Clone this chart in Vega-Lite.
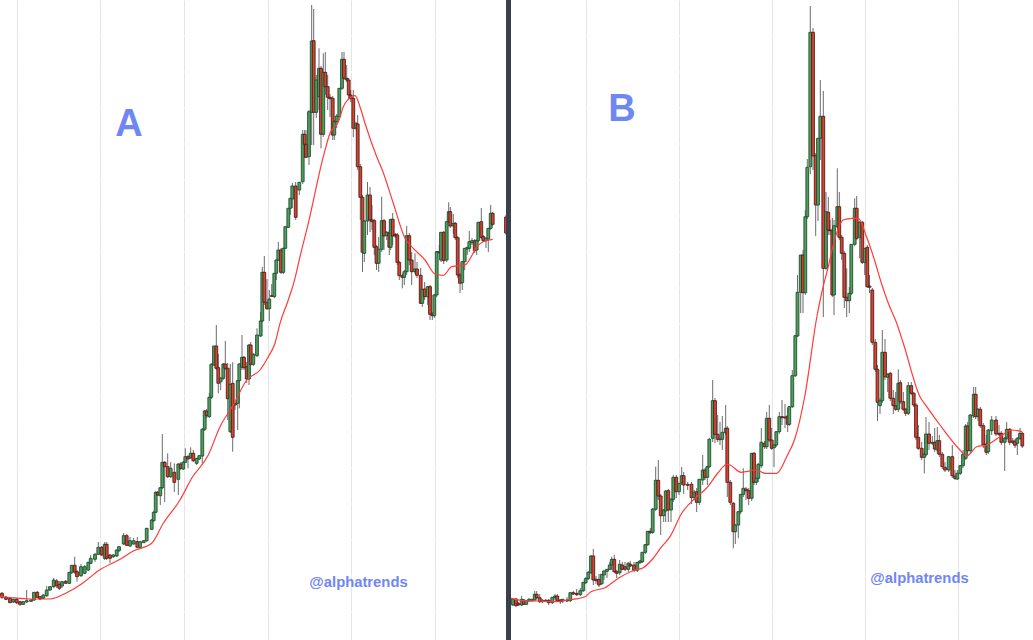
{
"$schema":"https://vega.github.io/schema/vega-lite/v6.json",
"width":1033,"height":640,
"autosize":"none",
"padding":0,
"background":"#ffffff",
"view":{"stroke":null},
"datasets":{
"candles":[
{"t":2,"o":46.7,"h":48,"l":41,"c":42.7},{"t":6,"o":42.7,"h":44,"l":40,"c":40.7},{"t":10,"o":41.7,"h":43,"l":37,"c":37.3},{"t":13.3,"o":38,"h":41.5,"l":37,"c":40.7},{"t":16.7,"o":40.7,"h":42,"l":36,"c":37.3},{"t":20,"o":38.3,"h":39,"l":34,"c":35.7},{"t":23.3,"o":35.7,"h":39,"l":35,"c":38.3},{"t":26.7,"o":38,"h":50,"l":37,"c":39.3},{"t":31,"o":38.7,"h":41,"l":38,"c":40},{"t":34,"o":40,"h":48,"l":39,"c":47.7},{"t":37.3,"o":47.7,"h":49,"l":42,"c":42.7},{"t":40,"o":43.3,"h":44,"l":40,"c":41},{"t":43.3,"o":41.7,"h":46,"l":41,"c":45},{"t":46.7,"o":44.3,"h":54,"l":43,"c":50},{"t":50,"o":50,"h":54,"l":49,"c":53.3},{"t":53.7,"o":53.3,"h":62,"l":52,"c":60},{"t":56.7,"o":59,"h":61,"l":52,"c":54.3},{"t":59.3,"o":55.7,"h":59,"l":50,"c":51.7},{"t":62,"o":54,"h":59,"l":52,"c":58.3},{"t":65.7,"o":58.7,"h":60,"l":56,"c":56.7},{"t":69.3,"o":56.7,"h":68,"l":56,"c":67.7},{"t":71.7,"o":67.3,"h":75,"l":66,"c":74.7},{"t":74.7,"o":74.7,"h":83.3,"l":66,"c":68},{"t":77,"o":68.3,"h":70,"l":58.3,"c":63.3},{"t":81,"o":64.3,"h":76,"l":63,"c":73.3},{"t":84.7,"o":66.7,"h":75,"l":66,"c":73.3},{"t":88.3,"o":70,"h":78,"l":69,"c":77.7},{"t":90.7,"o":76.7,"h":85,"l":76,"c":81.7},{"t":95,"o":80.7,"h":87,"l":78,"c":85.7},{"t":98.3,"o":85.7,"h":98,"l":85,"c":92.7},{"t":101.7,"o":92.7,"h":94,"l":84,"c":85},{"t":104.7,"o":81.7,"h":98,"l":80,"c":95.7},{"t":106.7,"o":95.7,"h":98,"l":80,"c":81.7},{"t":110,"o":85,"h":86,"l":76.7,"c":81.7},{"t":113.3,"o":83.3,"h":86,"l":82,"c":85},{"t":116.7,"o":84,"h":90.5,"l":83,"c":90},{"t":119,"o":89.3,"h":94,"l":88,"c":93.3},{"t":123.7,"o":96,"h":107,"l":95,"c":104.3},{"t":126.7,"o":104.3,"h":106,"l":94,"c":94.7},{"t":130,"o":94,"h":103,"l":93,"c":99.3},{"t":133.7,"o":96,"h":102,"l":95,"c":99.3},{"t":137.3,"o":98.3,"h":103,"l":92,"c":92.7},{"t":140,"o":92.7,"h":99,"l":92,"c":98.3},{"t":143.7,"o":97.3,"h":100,"l":97,"c":99.3},{"t":146.7,"o":99.3,"h":112,"l":98,"c":111.7},{"t":151.7,"o":110.7,"h":121,"l":110,"c":120},{"t":153.7,"o":119.3,"h":129,"l":118,"c":127.7},{"t":155.7,"o":127.7,"h":149,"l":127,"c":147.7},{"t":157.7,"o":147.7,"h":149,"l":144,"c":145},{"t":160.3,"o":144.3,"h":153,"l":135,"c":152.3},{"t":162.3,"o":152.3,"h":206,"l":151,"c":177.7},{"t":164.7,"o":177.7,"h":179,"l":138,"c":173.3},{"t":167.7,"o":173.3,"h":186.7,"l":162,"c":163.3},{"t":170.7,"o":163.3,"h":178,"l":162,"c":171.7},{"t":174.3,"o":167.7,"h":176.7,"l":148,"c":157.7},{"t":178.3,"o":160.7,"h":177,"l":145,"c":176},{"t":180.7,"o":176,"h":178,"l":170,"c":171.7},{"t":183.3,"o":171,"h":179,"l":170,"c":177.7},{"t":185.3,"o":177.7,"h":191.7,"l":177,"c":183.3},{"t":188,"o":183.3,"h":185,"l":171.7,"c":181},{"t":190.7,"o":182.3,"h":192.7,"l":181,"c":186.7},{"t":193.3,"o":186.7,"h":190,"l":178,"c":179.3},{"t":196.7,"o":176.7,"h":182,"l":175,"c":181.7},{"t":199.3,"o":181,"h":185,"l":180,"c":184.3},{"t":202.3,"o":184,"h":212,"l":177,"c":210.7},{"t":204.7,"o":210.7,"h":230,"l":209,"c":229},{"t":206.7,"o":229,"h":231,"l":222,"c":224.3},{"t":209.3,"o":223.3,"h":247,"l":222,"c":242.7},{"t":211.3,"o":242.7,"h":277,"l":241,"c":275.7},{"t":214,"o":275,"h":294,"l":274,"c":294},{"t":216.3,"o":294,"h":315,"l":270,"c":271.7},{"t":218.3,"o":272.3,"h":286,"l":246.7,"c":256.7},{"t":220.7,"o":258.3,"h":263,"l":250,"c":261.7},{"t":223.3,"o":261.7,"h":277,"l":260,"c":276},{"t":225.3,"o":276,"h":299,"l":270,"c":271.7},{"t":227.7,"o":271.7,"h":277,"l":220,"c":241.3},{"t":230.3,"o":208.3,"h":276,"l":207,"c":255.7},{"t":232.7,"o":256.7,"h":277.7,"l":188.3,"c":202.7},{"t":235,"o":236.7,"h":238,"l":230,"c":235},{"t":237.7,"o":236.7,"h":260,"l":210,"c":259.3},{"t":239.3,"o":259.3,"h":277,"l":231.7,"c":276},{"t":242,"o":272.7,"h":305,"l":270,"c":282.7},{"t":244,"o":282.7,"h":284,"l":270,"c":272.3},{"t":246.7,"o":273.3,"h":278,"l":257,"c":261},{"t":249,"o":261,"h":296,"l":255,"c":295},{"t":250.7,"o":295,"h":298,"l":274,"c":275.7},{"t":253.3,"o":275.7,"h":287,"l":274,"c":285.7},{"t":257,"o":284.3,"h":311.7,"l":283,"c":305},{"t":260.7,"o":304,"h":328,"l":303,"c":319},{"t":262.3,"o":319,"h":373,"l":318,"c":367.7},{"t":264.3,"o":367.7,"h":384,"l":335,"c":337.7},{"t":267,"o":337.7,"h":361,"l":330,"c":331.3},{"t":269.3,"o":331.3,"h":350,"l":319,"c":341},{"t":271.7,"o":344.3,"h":356,"l":343,"c":343.7},{"t":274.3,"o":343.3,"h":367,"l":342,"c":366.7},{"t":276.3,"o":366.7,"h":381,"l":360,"c":380},{"t":278.3,"o":380,"h":398,"l":379,"c":390},{"t":281,"o":390,"h":392,"l":366,"c":367.7},{"t":283.3,"o":367.7,"h":392,"l":366,"c":391.7},{"t":285.3,"o":391.7,"h":414,"l":391,"c":413.3},{"t":288.3,"o":412.7,"h":432,"l":412,"c":431.7},{"t":290.3,"o":431.7,"h":442,"l":425,"c":441.7},{"t":292.3,"o":441,"h":457,"l":432,"c":454},{"t":295.7,"o":454,"h":458,"l":420,"c":422.7},{"t":299.3,"o":450,"h":458,"l":445,"c":457.7},{"t":302.7,"o":458.3,"h":510,"l":456,"c":505.7},{"t":304.7,"o":505.7,"h":510,"l":482,"c":495.7},{"t":306,"o":495.7,"h":510,"l":482,"c":482.7},{"t":309,"o":483.3,"h":530,"l":475,"c":528.3},{"t":311.7,"o":527.7,"h":635,"l":495,"c":599},{"t":313.7,"o":599.3,"h":631,"l":495,"c":527.7},{"t":316.3,"o":527.7,"h":565,"l":522,"c":560},{"t":319,"o":543.3,"h":591.7,"l":530,"c":571.7},{"t":321,"o":571.7,"h":574,"l":491.7,"c":505.7},{"t":323.3,"o":505.7,"h":586.7,"l":503,"c":567.7},{"t":325.3,"o":567.7,"h":588,"l":545,"c":553.3},{"t":327.7,"o":553.3,"h":565,"l":530,"c":542.7},{"t":330,"o":542.7,"h":546,"l":523,"c":541.3},{"t":332.7,"o":541.7,"h":544,"l":500,"c":505},{"t":334.3,"o":505,"h":520,"l":500,"c":518.3},{"t":336.7,"o":518.3,"h":526,"l":512,"c":524},{"t":339.3,"o":523.3,"h":552,"l":520,"c":551.7},{"t":342,"o":551.7,"h":588,"l":550,"c":580.7},{"t":344,"o":580.7,"h":588,"l":560,"c":561.7},{"t":346.7,"o":561.7,"h":575,"l":558,"c":560},{"t":348.7,"o":560,"h":562,"l":540,"c":545},{"t":350.7,"o":545,"h":550,"l":538,"c":541.7},{"t":353.3,"o":541.7,"h":550,"l":503,"c":511.7},{"t":356,"o":511.7,"h":518,"l":510,"c":516.7},{"t":357.7,"o":516,"h":525,"l":470,"c":473.3},{"t":360.3,"o":473.3,"h":476,"l":420,"c":442.7},{"t":362.5,"o":442.7,"h":445,"l":368,"c":387.7},{"t":364.3,"o":386.7,"h":420,"l":378,"c":419},{"t":367.5,"o":419,"h":458,"l":405,"c":445},{"t":370,"o":445,"h":453,"l":408,"c":420},{"t":372,"o":420,"h":435,"l":410,"c":418.3},{"t":374.3,"o":419.3,"h":421,"l":385,"c":392.7},{"t":376.5,"o":393.3,"h":395,"l":370,"c":376.7},{"t":378.7,"o":376.7,"h":403,"l":368,"c":390.7},{"t":381.7,"o":390.7,"h":443.3,"l":388,"c":419.3},{"t":384,"o":419.3,"h":421,"l":390,"c":404},{"t":386.7,"o":404.3,"h":409,"l":400,"c":407.7},{"t":389.3,"o":407.3,"h":410,"l":385,"c":392.7},{"t":390.7,"o":392.7,"h":421,"l":390,"c":420.7},{"t":392.7,"o":420.7,"h":427,"l":395,"c":404},{"t":395.3,"o":405.7,"h":407,"l":402,"c":404},{"t":397.3,"o":405,"h":407,"l":375,"c":377.7},{"t":399.3,"o":377.7,"h":379,"l":360,"c":364.3},{"t":402.3,"o":364.3,"h":366,"l":351.7,"c":362.7},{"t":404.3,"o":362.7,"h":370,"l":355,"c":368.3},{"t":406.7,"o":368.3,"h":414,"l":365,"c":404.3},{"t":409.3,"o":404.3,"h":407,"l":375,"c":380},{"t":411.7,"o":380,"h":388,"l":355,"c":368.3},{"t":415,"o":368.3,"h":386.7,"l":366,"c":371},{"t":417,"o":371,"h":378,"l":362,"c":364.7},{"t":420.7,"o":364.7,"h":372,"l":336,"c":336.7},{"t":422.3,"o":336.7,"h":351,"l":333,"c":350.7},{"t":424.7,"o":351,"h":358,"l":340,"c":343.3},{"t":427.7,"o":343.3,"h":354,"l":335,"c":353.3},{"t":430,"o":353.3,"h":355,"l":320,"c":325.7},{"t":432.3,"o":326,"h":328,"l":320,"c":324.3},{"t":434.3,"o":324.3,"h":346,"l":322,"c":345},{"t":436.7,"o":345,"h":389,"l":343,"c":388.3},{"t":439.3,"o":388.3,"h":395,"l":386,"c":387.3},{"t":441,"o":380,"h":408,"l":378,"c":407.7},{"t":443.7,"o":407.7,"h":409,"l":376,"c":379.3},{"t":446.7,"o":380,"h":419,"l":378,"c":418.3},{"t":448.7,"o":418.3,"h":437.7,"l":417,"c":428.3},{"t":450.3,"o":428.3,"h":433,"l":412,"c":414},{"t":453.3,"o":414,"h":426,"l":406,"c":416.7},{"t":455.3,"o":416.7,"h":418,"l":400,"c":402.3},{"t":457.7,"o":402.3,"h":404,"l":362,"c":365},{"t":460,"o":365,"h":367,"l":347,"c":356.7},{"t":462.3,"o":357.3,"h":379,"l":350,"c":378.3},{"t":464.7,"o":378.3,"h":392,"l":370,"c":391.7},{"t":467.3,"o":391,"h":393,"l":385,"c":392.7},{"t":469.3,"o":391.7,"h":409,"l":388,"c":398.3},{"t":472,"o":397.3,"h":402,"l":395,"c":399.3},{"t":474.7,"o":399.3,"h":401,"l":387,"c":389.3},{"t":476.7,"o":390,"h":401,"l":385,"c":399.3},{"t":478.3,"o":399.3,"h":418,"l":398,"c":417.7},{"t":481.3,"o":418.3,"h":432,"l":401,"c":402.7},{"t":483.3,"o":403.3,"h":405,"l":398,"c":399.3},{"t":486,"o":399.3,"h":403,"l":392,"c":401.7},{"t":488.3,"o":401,"h":412,"l":388,"c":411.7},{"t":490.7,"o":411.7,"h":435,"l":410,"c":426.7},{"t":492.7,"o":426.7,"h":428,"l":414,"c":415.7},{"t":506,"o":423,"h":425,"l":405,"c":407},
{"t":513,"o":35,"h":42,"l":34,"c":41},{"t":516,"o":41,"h":42,"l":33,"c":34.3},{"t":518.3,"o":36.7,"h":38,"l":34,"c":35},{"t":521.7,"o":35,"h":44,"l":34,"c":40.7},{"t":524,"o":40,"h":41,"l":35,"c":35.7},{"t":526.3,"o":35.7,"h":40,"l":35,"c":39.3},{"t":529,"o":39,"h":42,"l":38,"c":40.7},{"t":532,"o":39.3,"h":41,"l":38,"c":40.7},{"t":534.7,"o":40,"h":49,"l":39,"c":45.7},{"t":536.7,"o":45.7,"h":49,"l":41,"c":42.3},{"t":539.7,"o":42.3,"h":46,"l":37,"c":38.3},{"t":542.3,"o":38.3,"h":41,"l":37,"c":39.7},{"t":545.7,"o":39.7,"h":41,"l":38,"c":38.7},{"t":548.7,"o":39.7,"h":41,"l":35,"c":37.3},{"t":552.3,"o":37.3,"h":43,"l":36,"c":42.7},{"t":555,"o":42.3,"h":46,"l":40,"c":44},{"t":557.3,"o":44,"h":46,"l":38,"c":39},{"t":560.3,"o":40,"h":41,"l":36,"c":38.3},{"t":562.7,"o":39,"h":41,"l":37,"c":40.7},{"t":567,"o":40,"h":43,"l":38,"c":39},{"t":570.3,"o":39.3,"h":48,"l":38,"c":47.3},{"t":573.3,"o":47.3,"h":49,"l":45,"c":46},{"t":576.7,"o":46.7,"h":51,"l":44,"c":45.3},{"t":580.3,"o":45.3,"h":52,"l":44,"c":49.3},{"t":583.3,"o":49.3,"h":58,"l":48,"c":57.7},{"t":585.7,"o":57.3,"h":63,"l":56,"c":61.3},{"t":588.3,"o":61.3,"h":69,"l":60,"c":67.7},{"t":591,"o":67.3,"h":85,"l":66,"c":84},{"t":593.3,"o":84,"h":91,"l":55,"c":60},{"t":596,"o":60.7,"h":64,"l":56,"c":59.3},{"t":599,"o":60.7,"h":66,"l":53,"c":55},{"t":601.7,"o":56.3,"h":66,"l":55,"c":65.7},{"t":604,"o":65,"h":70,"l":60,"c":69},{"t":607,"o":68.7,"h":71,"l":62,"c":70.7},{"t":609.7,"o":70.7,"h":78,"l":70,"c":75},{"t":611.7,"o":75,"h":83.3,"l":70,"c":80.7},{"t":614.3,"o":80.7,"h":85,"l":67,"c":68.3},{"t":616.7,"o":68.3,"h":70,"l":62,"c":66.7},{"t":619.7,"o":67.3,"h":80,"l":65,"c":75.7},{"t":622.3,"o":75,"h":78,"l":70,"c":70.7},{"t":625,"o":73.3,"h":78,"l":69,"c":70.7},{"t":628.3,"o":70.7,"h":78,"l":68,"c":76.7},{"t":630.3,"o":75.7,"h":79,"l":73,"c":74},{"t":634,"o":75,"h":78,"l":68,"c":69.7},{"t":637.3,"o":69.7,"h":78,"l":68,"c":77.7},{"t":640,"o":77.3,"h":80,"l":76,"c":79},{"t":642.3,"o":78.3,"h":88,"l":77,"c":87.7},{"t":645.3,"o":87.7,"h":96,"l":86,"c":95.3},{"t":647.7,"o":95.3,"h":109,"l":94,"c":108.7},{"t":650.3,"o":108.7,"h":112,"l":106,"c":107.3},{"t":652.7,"o":107.7,"h":132,"l":106,"c":131},{"t":655.7,"o":130.7,"h":173.3,"l":129,"c":159.7},{"t":658.3,"o":159.7,"h":180,"l":140,"c":144},{"t":660.7,"o":144,"h":146,"l":105,"c":124.3},{"t":663.7,"o":124.3,"h":131,"l":118,"c":130},{"t":665.7,"o":129,"h":150,"l":118,"c":149},{"t":668.3,"o":149.3,"h":151,"l":118,"c":130},{"t":671,"o":130,"h":142,"l":118,"c":140.7},{"t":673.3,"o":140.7,"h":165,"l":138,"c":162.7},{"t":676.3,"o":162.7,"h":165,"l":142,"c":148.3},{"t":679,"o":148.3,"h":157,"l":145,"c":156.7},{"t":681.7,"o":157.3,"h":173,"l":155,"c":164.3},{"t":683.7,"o":164.3,"h":168,"l":146,"c":155},{"t":687.7,"o":155.7,"h":158,"l":150,"c":154.7},{"t":691.5,"o":155.7,"h":158,"l":136,"c":142.5},{"t":694.2,"o":142.5,"h":150,"l":140,"c":147.8},{"t":696.7,"o":148.3,"h":152,"l":128,"c":137.7},{"t":699.3,"o":137.7,"h":161,"l":135,"c":160.7},{"t":702.7,"o":160,"h":185,"l":155,"c":170},{"t":705,"o":170,"h":172,"l":160,"c":162.7},{"t":707.3,"o":162.7,"h":174,"l":155,"c":173.3},{"t":709.3,"o":173.3,"h":202,"l":172,"c":200.7},{"t":712.7,"o":201.7,"h":260,"l":198,"c":239.3},{"t":715,"o":239.3,"h":242,"l":197,"c":205.7},{"t":717.7,"o":205.7,"h":225,"l":198,"c":200.7},{"t":720,"o":200.3,"h":218,"l":195,"c":201},{"t":722.3,"o":200.7,"h":224,"l":190,"c":207.7},{"t":725.7,"o":207.3,"h":235,"l":205,"c":211.7},{"t":727.3,"o":211.7,"h":214,"l":143,"c":157.7},{"t":730.3,"o":157.7,"h":160,"l":135,"c":137.7},{"t":733.3,"o":136.7,"h":138,"l":91.7,"c":108.3},{"t":735.3,"o":108.3,"h":116,"l":96,"c":115},{"t":738.3,"o":115,"h":129,"l":101.7,"c":128.3},{"t":740.7,"o":128.3,"h":146,"l":126,"c":145.7},{"t":743.3,"o":145.7,"h":171.7,"l":143,"c":151.7},{"t":746,"o":151,"h":153,"l":140,"c":149.3},{"t":748.7,"o":149.3,"h":152,"l":135,"c":141.7},{"t":751.7,"o":141.7,"h":187,"l":139,"c":186.7},{"t":754,"o":186.7,"h":188,"l":155,"c":157.7},{"t":756.3,"o":157.7,"h":162,"l":155,"c":161.7},{"t":758.3,"o":161.7,"h":177,"l":158,"c":175.7},{"t":761.3,"o":174.3,"h":212,"l":172,"c":197.7},{"t":764.7,"o":196.7,"h":199,"l":191,"c":193.3},{"t":766.7,"o":193.3,"h":228,"l":191,"c":221.7},{"t":769.3,"o":221.7,"h":235,"l":198,"c":200},{"t":771.7,"o":200,"h":212,"l":190,"c":191.7},{"t":774,"o":192.3,"h":196,"l":173,"c":195},{"t":776.3,"o":195,"h":209,"l":193,"c":208.3},{"t":779.3,"o":208.3,"h":228,"l":206,"c":223.3},{"t":782,"o":223.3,"h":240,"l":215,"c":222.3},{"t":785,"o":223,"h":236,"l":212,"c":222},{"t":787.7,"o":224,"h":232,"l":208,"c":215.7},{"t":789.3,"o":215.7,"h":234,"l":214,"c":233.3},{"t":792.3,"o":233.3,"h":270,"l":232,"c":264.3},{"t":795.3,"o":264.3,"h":305,"l":263,"c":304.3},{"t":797.5,"o":304,"h":365,"l":303,"c":347.7},{"t":800.7,"o":347.7,"h":385,"l":327,"c":385},{"t":803,"o":385,"h":390,"l":327,"c":347.3},{"t":805.3,"o":347.3,"h":430,"l":345,"c":423.3},{"t":807.3,"o":423.3,"h":481,"l":421,"c":472.7},{"t":810.3,"o":473.3,"h":634,"l":466,"c":607.7},{"t":813,"o":607.7,"h":612,"l":470,"c":484},{"t":815.7,"o":484.3,"h":487,"l":404,"c":435},{"t":818,"o":435,"h":502,"l":419,"c":501.7},{"t":820.3,"o":501.7,"h":560,"l":480,"c":523.7},{"t":823.3,"o":523.7,"h":549,"l":323,"c":371.7},{"t":826,"o":371.7,"h":448,"l":370,"c":428.3},{"t":828.3,"o":427.7,"h":443,"l":405,"c":410},{"t":830,"o":410,"h":420,"l":405,"c":409.3},{"t":832.3,"o":410,"h":422,"l":343,"c":345},{"t":834,"o":345,"h":420,"l":325,"c":414.3},{"t":837.3,"o":413.3,"h":471.7,"l":410,"c":433.3},{"t":839.3,"o":433.3,"h":448,"l":400,"c":402.7},{"t":841.7,"o":402.7,"h":405,"l":380,"c":386.7},{"t":844.3,"o":386.7,"h":389,"l":332,"c":342.7},{"t":846.7,"o":342.7,"h":371.7,"l":323,"c":339.3},{"t":849.3,"o":339.3,"h":353,"l":327,"c":346.7},{"t":851.3,"o":346.7,"h":396,"l":345,"c":395.7},{"t":854.7,"o":395.7,"h":441.7,"l":394,"c":431.7},{"t":856.7,"o":431.7,"h":444,"l":400,"c":401.7},{"t":859.7,"o":402.7,"h":419,"l":381.7,"c":417.7},{"t":862.3,"o":417.7,"h":419,"l":376,"c":377.7},{"t":864.7,"o":377.7,"h":392,"l":365,"c":391.7},{"t":867.3,"o":392.7,"h":395,"l":352,"c":353.3},{"t":869.5,"o":354,"h":365,"l":347,"c":352.7},{"t":872.3,"o":350,"h":352,"l":295,"c":297.7},{"t":875.3,"o":297.7,"h":301,"l":268,"c":270.7},{"t":877.5,"o":270.7,"h":275,"l":219,"c":237.7},{"t":880,"o":234.3,"h":242,"l":226,"c":239.3},{"t":882.3,"o":239.3,"h":310,"l":237,"c":287.7},{"t":885,"o":287.7,"h":301,"l":260,"c":263.3},{"t":887.7,"o":262.7,"h":267,"l":248,"c":265.7},{"t":890.3,"o":266.7,"h":268,"l":239,"c":241.7},{"t":893.3,"o":241.7,"h":250,"l":226,"c":234.3},{"t":895.7,"o":234.3,"h":248,"l":229,"c":230.7},{"t":898.3,"o":230.7,"h":270.7,"l":228,"c":256.7},{"t":900.3,"o":257.3,"h":260,"l":236,"c":238.3},{"t":903.3,"o":238.3,"h":248,"l":229,"c":230.7},{"t":905.7,"o":230.7,"h":232,"l":224,"c":226.7},{"t":908.3,"o":226.7,"h":258,"l":225,"c":254.3},{"t":911.3,"o":254.3,"h":258,"l":245,"c":246.7},{"t":913.7,"o":246.7,"h":248,"l":233,"c":235},{"t":916,"o":235,"h":237,"l":200,"c":202.7},{"t":918.3,"o":202.7,"h":215,"l":190,"c":191.7},{"t":921.7,"o":191.7,"h":198,"l":180,"c":182.7},{"t":924.3,"o":182.7,"h":187,"l":166.7,"c":186},{"t":926,"o":185.3,"h":223,"l":184,"c":206},{"t":929,"o":206,"h":218,"l":190,"c":196.7},{"t":932.3,"o":196.7,"h":204,"l":195,"c":197.7},{"t":934.7,"o":197.7,"h":212,"l":188,"c":191},{"t":937.3,"o":190,"h":213,"l":186,"c":199.3},{"t":939.3,"o":199.3,"h":205,"l":183,"c":185.7},{"t":942.3,"o":185.7,"h":188,"l":171,"c":173.3},{"t":945,"o":172.7,"h":178,"l":168,"c":170},{"t":948.7,"o":170,"h":184,"l":168,"c":183.3},{"t":952.3,"o":183.3,"h":195,"l":162,"c":164.3},{"t":955,"o":164,"h":170,"l":160,"c":161.7},{"t":957.3,"o":161,"h":170,"l":160,"c":166.7},{"t":960.3,"o":166.7,"h":175,"l":165,"c":174.3},{"t":963,"o":174.3,"h":190,"l":172,"c":185.7},{"t":965.7,"o":181.7,"h":216,"l":180,"c":214},{"t":967.7,"o":214,"h":218,"l":185,"c":189.3},{"t":970.3,"o":189.3,"h":226,"l":187,"c":225},{"t":973.7,"o":224,"h":253,"l":222,"c":245.7},{"t":975.7,"o":245.7,"h":253,"l":221,"c":223.3},{"t":978,"o":223.3,"h":232,"l":219,"c":230.7},{"t":980.3,"o":230.7,"h":233,"l":212,"c":214.3},{"t":983.3,"o":214.3,"h":217,"l":192,"c":195},{"t":986.3,"o":196,"h":205,"l":185,"c":187.7},{"t":988.3,"o":188.3,"h":211,"l":186,"c":210},{"t":991.7,"o":209.3,"h":224,"l":205,"c":220},{"t":996,"o":220,"h":224,"l":204,"c":206},{"t":999,"o":206.7,"h":215,"l":204,"c":205.7},{"t":1001.3,"o":206.7,"h":209,"l":195,"c":197.7},{"t":1004.7,"o":197.7,"h":203,"l":169,"c":201.7},{"t":1006.7,"o":201.7,"h":218,"l":200,"c":210.7},{"t":1009.7,"o":210.7,"h":212,"l":195,"c":197.7},{"t":1012.7,"o":199,"h":202,"l":196,"c":197.7},{"t":1015,"o":199,"h":201,"l":192,"c":194.7},{"t":1017.3,"o":196.7,"h":203,"l":185,"c":201.7},{"t":1020,"o":201.7,"h":212,"l":200,"c":206.7},{"t":1022.3,"o":206.7,"h":208,"l":192,"c":194}
],
"average":[
{"panel":"A","t":0,"v":43.5},{"panel":"A","t":10,"v":42.5},{"panel":"A","t":30,"v":41},{"panel":"A","t":50,"v":41},{"panel":"A","t":66.7,"v":47.3},{"panel":"A","t":83.3,"v":57.3},{"panel":"A","t":98.3,"v":69.3},{"panel":"A","t":120,"v":80.7},{"panel":"A","t":133.3,"v":89},{"panel":"A","t":151.7,"v":96.7},{"panel":"A","t":163.3,"v":116.7},{"panel":"A","t":180,"v":140},{"panel":"A","t":191.7,"v":161.7},{"panel":"A","t":208.3,"v":185},{"panel":"A","t":220,"v":213.3},{"panel":"A","t":233.3,"v":235},{"panel":"A","t":246.7,"v":260},{"panel":"A","t":260,"v":270},{"panel":"A","t":268.3,"v":283.3},{"panel":"A","t":275,"v":296.7},{"panel":"A","t":280,"v":316.7},{"panel":"A","t":288.3,"v":340},{"panel":"A","t":295,"v":361.7},{"panel":"A","t":300,"v":383.3},{"panel":"A","t":308.3,"v":416.7},{"panel":"A","t":323.3,"v":483.3},{"panel":"A","t":330,"v":506.7},{"panel":"A","t":338.3,"v":518.3},{"panel":"A","t":343.3,"v":533.3},{"panel":"A","t":351.7,"v":543.3},{"panel":"A","t":355,"v":544.3},{"panel":"A","t":360,"v":533.3},{"panel":"A","t":365,"v":516.7},{"panel":"A","t":376.7,"v":483.3},{"panel":"A","t":382.3,"v":470},{"panel":"A","t":393.3,"v":436.7},{"panel":"A","t":405,"v":401.7},{"panel":"A","t":413.3,"v":391.7},{"panel":"A","t":425,"v":380},{"panel":"A","t":435,"v":366},{"panel":"A","t":443.3,"v":364.7},{"panel":"A","t":451.7,"v":373.3},{"panel":"A","t":465,"v":375},{"panel":"A","t":478.3,"v":395},{"panel":"A","t":483.3,"v":398.3},{"panel":"A","t":492.7,"v":400.7},
{"panel":"B","t":511,"v":41.7},{"panel":"B","t":525,"v":39.3},{"panel":"B","t":538.3,"v":39},{"panel":"B","t":555,"v":38.3},{"panel":"B","t":568.3,"v":40},{"panel":"B","t":585,"v":43.3},{"panel":"B","t":591,"v":48.3},{"panel":"B","t":605,"v":52.3},{"panel":"B","t":618.3,"v":61.7},{"panel":"B","t":635,"v":70},{"panel":"B","t":643.3,"v":72.3},{"panel":"B","t":651.7,"v":80},{"panel":"B","t":661.7,"v":93.3},{"panel":"B","t":670,"v":103.3},{"panel":"B","t":681.7,"v":126.7},{"panel":"B","t":695,"v":141.7},{"panel":"B","t":706.7,"v":152},{"panel":"B","t":718.3,"v":167.5},{"panel":"B","t":726.7,"v":175.7},{"panel":"B","t":730,"v":175},{"panel":"B","t":741,"v":167.7},{"panel":"B","t":756.7,"v":170},{"panel":"B","t":765,"v":166.7},{"panel":"B","t":776.7,"v":166.7},{"panel":"B","t":786.7,"v":183.3},{"panel":"B","t":795,"v":201.7},{"panel":"B","t":805,"v":245},{"panel":"B","t":817,"v":324},{"panel":"B","t":821.7,"v":347},{"panel":"B","t":828.3,"v":373.3},{"panel":"B","t":835,"v":401.7},{"panel":"B","t":843.3,"v":420},{"panel":"B","t":851.7,"v":421.7},{"panel":"B","t":858.3,"v":421.7},{"panel":"B","t":866.7,"v":402.7},{"panel":"B","t":875,"v":378.3},{"panel":"B","t":881,"v":358},{"panel":"B","t":888.3,"v":336.7},{"panel":"B","t":896.7,"v":316.7},{"panel":"B","t":903.3,"v":296.7},{"panel":"B","t":920,"v":243.3},{"panel":"B","t":926.7,"v":233.3},{"panel":"B","t":940,"v":215},{"panel":"B","t":960,"v":190},{"panel":"B","t":966.7,"v":184},{"panel":"B","t":976.7,"v":193.3},{"panel":"B","t":986.7,"v":195},{"panel":"B","t":1000,"v":203.3},{"panel":"B","t":1011.7,"v":210},{"panel":"B","t":1022.3,"v":208.3}
],
"letters":[{"label":"A","t":129,"v":515},{"label":"B","t":622,"v":530}],
"handles":[{"label":"@alphatrends","t":358.5,"v":57},{"label":"@alphatrends","t":919.5,"v":61}]
},
"encoding":{
"x":{"field":"t","type":"quantitative","scale":{"domain":[0,1033],"nice":false,"zero":false,"padding":0},
"axis":{"values":[17,100,184,268,351,435,586,679,772,865,958],"labels":false,"ticks":false,"domain":false,"title":null,"grid":true,"gridColor":"#e4e4e4","gridWidth":1,"gridDash":[35,1]}}
},
"layer":[
{"data":{"name":"candles"},"mark":{"type":"rule","color":"#6b6b6b","strokeWidth":1},
"encoding":{"y":{"field":"l","type":"quantitative","scale":{"domain":[0,640],"nice":false,"zero":false,"padding":0},"axis":null},"y2":{"field":"h"}}},
{"data":{"name":"candles"},"mark":{"type":"bar","size":2.8,"strokeWidth":0.9},
"encoding":{"y":{"field":"o","type":"quantitative"},"y2":{"field":"c"},
"fill":{"condition":{"test":"datum.c>=datum.o","value":"#4f9e5a"},"value":"#d8432f"},
"stroke":{"condition":{"test":"datum.c>=datum.o","value":"#1f4d33"},"value":"#4f1c1c"}}},
{"data":{"name":"average"},"mark":{"type":"line","color":"#ff3b3b","strokeWidth":1.2,"interpolate":"monotone"},
"encoding":{"y":{"field":"v","type":"quantitative"},"detail":{"field":"panel"}}},
{"data":{"values":[{"t":508.5}]},"mark":{"type":"rule","color":"#3a3f4c","strokeWidth":5},"encoding":{}},
{"data":{"name":"letters"},"mark":{"type":"text","font":"Liberation Sans","fontWeight":"bold","fontSize":38,"color":"#6f86f5"},
"encoding":{"y":{"field":"v","type":"quantitative"},"text":{"field":"label"}}},
{"data":{"name":"handles"},"mark":{"type":"text","font":"Liberation Sans","fontWeight":"bold","fontSize":14.8,"color":"#6f86f5"},
"encoding":{"y":{"field":"v","type":"quantitative"},"text":{"field":"label"}}}
]
}
